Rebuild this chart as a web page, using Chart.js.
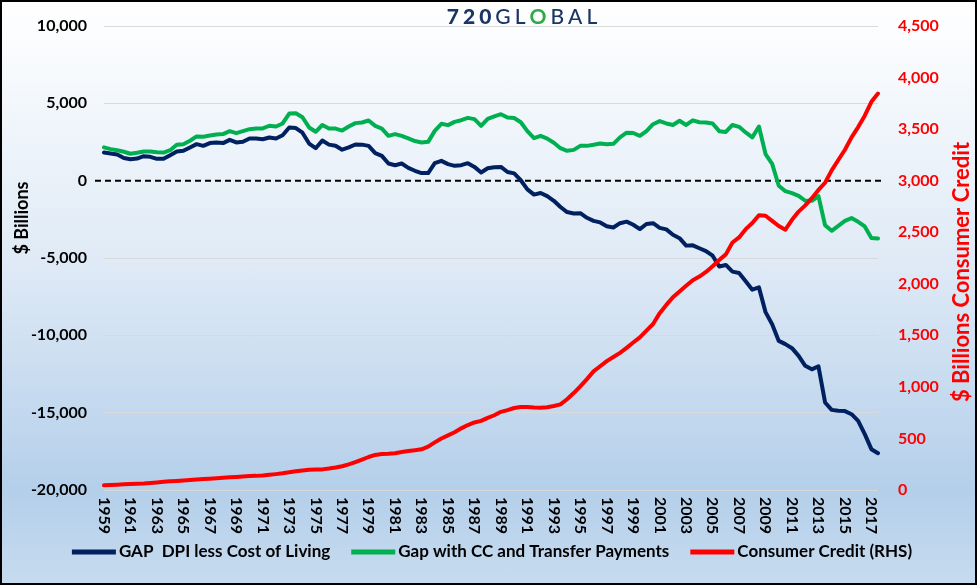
<!DOCTYPE html>
<html>
<head>
<meta charset="utf-8">
<script src="https://cdn.jsdelivr.net/npm/chart.js@4.4.1/dist/chart.umd.min.js"></script>
<style>
    html, body { margin: 0; padding: 0; }
    #wrap {
        width: 977px; height: 585px; box-sizing: border-box;
        border: 2px solid #000;
        background: linear-gradient(to bottom, #ffffff 0%, #dfeaf6 45%, #b4cfea 84%, #c6dbef 100%);
    }
    canvas { display: block; }
</style>
</head>
<body>
<div id="wrap"><canvas id="myChart" width="973" height="581"></canvas></div>
<script>
// half-year periods, 1959 H1 .. 2017 H2
const startYear = 1959;
const endYear = 2017;
let periods = [];
for (let y = startYear; y <= endYear; y++) {
    periods.push(y + ' H1', y + ' H2');
}

const tickYears = [1959, 1961, 1963, 1965, 1967, 1969, 1971, 1973, 1975, 1977,
    1979, 1981, 1983, 1985, 1987, 1989, 1991, 1993, 1995, 1997,
    1999, 2001, 2003, 2005, 2007, 2009, 2011, 2013, 2015, 2017];

// $ billions, left axis
const gapDpi = [
    1820, 1760, 1690, 1470, 1390, 1430, 1580, 1540, 1410, 1410,
    1650, 1890, 1930, 2150, 2360, 2250, 2430, 2470, 2430, 2640,
    2470, 2510, 2730, 2730, 2680, 2790, 2730, 2940, 3440, 3400,
    3100, 2400, 2100, 2600, 2330, 2260, 2000, 2150, 2340, 2330,
    2250, 1780, 1600, 1110, 1000, 1110, 830, 640, 490, 490,
    1130, 1280, 1070, 960, 1000, 1130, 890, 530, 800, 870,
    890, 560, 470, 30, -560, -900, -800, -1000, -1300, -1700,
    -2030, -2120, -2100, -2400, -2600, -2700, -2950, -3030, -2750, -2650,
    -2850, -3130, -2800, -2750, -3050, -3150, -3500, -3720, -4200, -4180,
    -4370, -4550, -4850, -5550, -5450, -5880, -5970, -6500, -7050, -6900,
    -8500, -9280, -10360, -10570, -10830, -11330, -11970, -12200, -12000, -14340,
    -14820, -14880, -14900, -15100, -15530, -16390, -17360, -17620
];

const gapTransfers = [
    2150, 2040, 1970, 1870, 1740, 1800, 1890, 1890, 1840, 1820,
    1970, 2320, 2360, 2580, 2860, 2840, 2920, 2990, 3010, 3200,
    3070, 3200, 3330, 3380, 3380, 3550, 3500, 3700, 4340, 4360,
    4100, 3440, 3160, 3600, 3370, 3370, 3240, 3500, 3720, 3760,
    3890, 3545, 3370, 2900, 3010, 2900, 2730, 2560, 2470, 2510,
    3220, 3675, 3590, 3800, 3910, 4060, 3980, 3545, 4000, 4160,
    4300, 4080, 4050, 3780, 3200, 2750, 2900, 2720, 2450, 2100,
    1930, 1990, 2250, 2250, 2320, 2400, 2350, 2380, 2800, 3100,
    3080, 2900, 3200, 3650, 3850, 3700, 3600, 3870, 3600, 3900,
    3780, 3760, 3700, 3200, 3150, 3600, 3480, 3120, 2800, 3500,
    1720, 1090, -330, -680, -810, -980, -1300, -1300, -1000, -2880,
    -3240, -2920, -2600, -2420, -2660, -2960, -3700, -3740
];

// $ billions, right axis
const consumerCredit = [
    45, 48, 52, 55, 57, 60, 63, 68, 73, 79,
    84, 88, 93, 97, 102, 106, 110, 114, 118, 123,
    127, 131, 135, 137, 141, 147, 154, 162, 172, 182,
    190, 196, 198, 200, 208, 218, 230, 248, 270, 295,
    320, 340, 350, 352, 356, 368, 378, 386, 395, 420,
    462, 500, 530, 560, 598, 630, 655, 670, 700, 725,
    758, 775, 795, 805, 806, 800, 798, 803, 815, 830,
    880, 940, 1005, 1075, 1150, 1200, 1250, 1290, 1330, 1378,
    1430, 1480, 1545, 1610, 1715, 1795, 1870, 1925, 1980, 2035,
    2070, 2115, 2170, 2230, 2285, 2400, 2450, 2530, 2590, 2665,
    2660, 2610, 2560, 2525, 2620, 2700, 2760, 2830, 2910, 2980,
    3100, 3200, 3300, 3420, 3520, 3630, 3765, 3845
];

const FONT = "Lato, 'Liberation Sans', sans-serif";
const NAVY = '#002060', GREEN = '#00b050', RED = '#ff0000';

// zero line, x labels, titles, legend and logo
const extras = {
    id: 'extras',
    beforeDatasetsDraw(chart) {
        const c = chart.ctx, a = chart.chartArea;
        const y0 = chart.scales.y.getPixelForValue(0);
        c.save();
        c.strokeStyle = '#000';
        c.lineWidth = 2;
        c.setLineDash([6, 4]);
        c.beginPath();
        c.moveTo(a.left - 9, y0);
        c.lineTo(a.right + 4, y0);
        c.stroke();
        c.restore();
    },
    afterDraw(chart) {
        const c = chart.ctx, a = chart.chartArea, xs = chart.scales.x;
        c.save();
        // x labels, turned clockwise
        c.fillStyle = '#000';
        c.font = 'bold 16px ' + FONT;
        c.textAlign = 'left';
        c.textBaseline = 'middle';
        periods.forEach((p, i) => {
            const yr = parseInt(p);
            if (p.endsWith('H1') && tickYears.includes(yr)) {
                c.save();
                c.translate(xs.getPixelForValue(i), a.bottom + 7);
                c.rotate(Math.PI / 2);
                c.fillText(String(yr), 0, 0);
                c.restore();
            }
        });

        // axis titles
        c.textAlign = 'center';
        c.font = 'bold 18px ' + FONT;
        c.save();
        c.translate(20, 216);
        c.rotate(-Math.PI / 2);
        c.fillText('$ Billions', 0, 0);
        c.restore();
        c.fillStyle = RED;
        c.font = 'bold 22px ' + FONT;
        c.save();
        c.translate(960, 270);
        c.rotate(-Math.PI / 2);
        c.fillText('$ Billions Consumer Credit', 0, 0);
        c.restore();

        // legend
        const items = chart.data.datasets.map(d => ({label: d.label, color: d.borderColor}));
        c.font = 'bold 17px ' + FONT;
        const lineLen = 44, gap = 3, between = 21;
        let total = 0;
        items.forEach((it, i) => {
            it.w = c.measureText(it.label).width;
            total += lineLen + gap + it.w + (i ? between : 0);
        });
        let lx = 490 - total / 2;
        const ly = 550;
        c.textAlign = 'left';
        items.forEach(it => {
            c.fillStyle = it.color;
            c.fillRect(lx, ly - 2.5, lineLen, 5);
            c.fillStyle = '#000';
            c.fillText(it.label, lx + lineLen + gap, ly);
            lx += lineLen + gap + it.w + between;
        });

        // logo
        const parts = [
            {t: '720', w: '900', col: '#1b3565'},
            {t: 'GL', w: '500', col: '#1b3565'},
            {t: 'O', w: '700', col: '#2eaa4a'},
            {t: 'BAL', w: '500', col: '#1b3565'}
        ];
        const spacing = 4;
        let widths = 0;
        parts.forEach(p => {
            c.font = p.w + ' 21px ' + FONT;
            p.chars = p.t.split('').map(ch => ({ch, w: c.measureText(ch).width}));
            p.chars.forEach(ch => widths += ch.w + spacing);
        });
        let gx = 520 - (widths - spacing) / 2;
        c.textBaseline = 'alphabetic';
        parts.forEach(p => {
            c.font = p.w + ' 21px ' + FONT;
            c.fillStyle = p.col;
            p.chars.forEach(ch => {
                c.fillText(ch.ch, gx, 22);
                gx += ch.w + spacing;
            });
        });
        c.restore();
    }
};

const ctx = document.getElementById('myChart');
new Chart(ctx, {
    type: 'line',
    data: {
        labels: periods,
        datasets: [{
            label: 'GAP  DPI less Cost of Living',
            data: gapDpi,
            borderColor: NAVY,
            backgroundColor: NAVY,
            yAxisID: 'y',
            order: 2
        }, {
            label: 'Gap with CC and Transfer Payments',
            data: gapTransfers,
            borderColor: GREEN,
            backgroundColor: GREEN,
            yAxisID: 'y',
            order: 1
        }, {
            label: 'Consumer Credit (RHS)',
            data: consumerCredit,
            borderColor: RED,
            backgroundColor: RED,
            yAxisID: 'y1',
            order: 0
        }]
    },
    options: {
        responsive: false,
        animation: false,
        elements: {
            line: {borderWidth: 4, tension: 0, borderJoinStyle: 'round', borderCapStyle: 'round'},
            point: {radius: 0}
        },
        layout: {padding: {top: 24, left: 0, right: 0, bottom: 0}},
        plugins: {
            legend: {display: false},
            tooltip: {enabled: false}
        },
        scales: {
            x: {
                type: 'category',
                offset: false,
                grid: {display: false},
                border: {display: false},
                ticks: {display: false},
                afterFit(s) { s.height = 93; }
            },
            y: {
                position: 'left',
                min: -20000,
                max: 10000,
                border: {display: false},
                grid: {
                    drawTicks: true,
                    tickLength: 17,
                    tickColor: 'rgba(0,0,0,0)',
                    color: c => c.tick && c.tick.value === 0 ? 'rgba(0,0,0,0)' : '#d9d9d9'
                },
                ticks: {
                    stepSize: 5000,
                    padding: 0,
                    color: '#000',
                    font: {family: FONT, size: 16, weight: 'bold'},
                    callback: v => v.toLocaleString('en-US')
                },
                afterFit(s) { s.width = 102; }
            },
            y1: {
                position: 'right',
                min: 0,
                max: 4500,
                border: {display: false},
                grid: {display: false, drawTicks: true, tickLength: 20},
                ticks: {
                    stepSize: 500,
                    padding: 0,
                    color: RED,
                    font: {family: FONT, size: 16, weight: 'bold'},
                    callback: v => v.toLocaleString('en-US')
                },
                afterFit(s) { s.width = 97; }
            }
        }
    },
    plugins: [extras]
});
</script>
</body>
</html>
